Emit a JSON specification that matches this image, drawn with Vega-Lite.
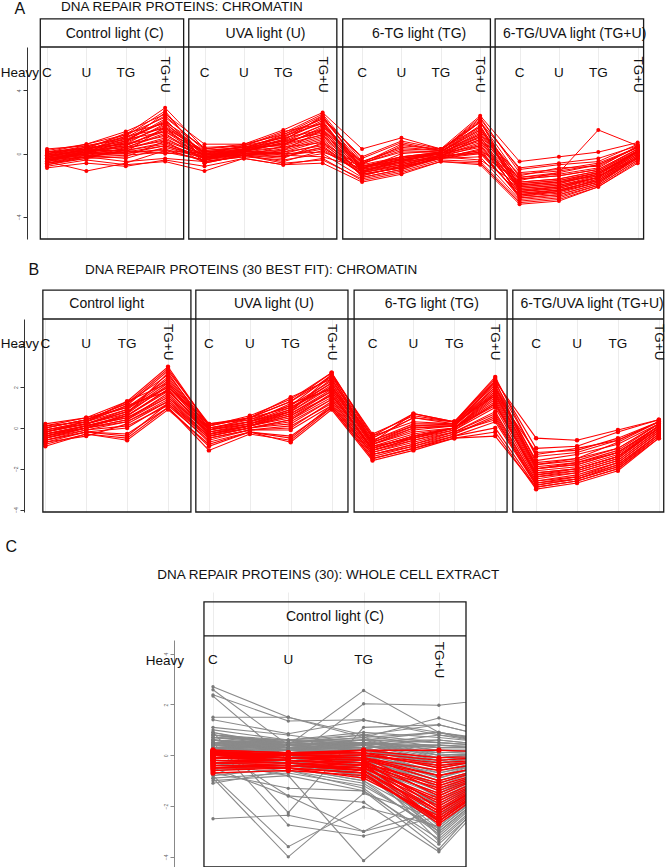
{
"$schema": "https://vega.github.io/schema/vega-lite/v6.json",
"padding": 0,
"background": "white",
"bounds": "flush",
"spacing": 80,
"config": {"view": {"stroke": null}, "font": "Liberation Sans"},
"datasets": {
"posA": [{"k":"c1","i":1,"lab":"C"},{"k":"u1","i":2,"lab":"U"},{"k":"t1","i":3,"lab":"TG"},{"k":"g1","i":4,"lab":"TG+U"},{"k":"c2","i":5,"lab":"C"},{"k":"u2","i":6,"lab":"U"},{"k":"t2","i":7,"lab":"TG"},{"k":"g2","i":8,"lab":"TG+U"},{"k":"c3","i":9,"lab":"C"},{"k":"u3","i":10,"lab":"U"},{"k":"t3","i":11,"lab":"TG"},{"k":"g3","i":12,"lab":"TG+U"},{"k":"c4","i":13,"lab":"C"},{"k":"u4","i":14,"lab":"U"},{"k":"t4","i":15,"lab":"TG"},{"k":"g4","i":16,"lab":"TG+U"}],
"posC": [{"k":"c1","i":1,"lab":"C"},{"k":"u1","i":2,"lab":"U"},{"k":"t1","i":3,"lab":"TG"},{"k":"g1","i":4,"lab":"TG+U"},{"k":"n","i":5,"lab":""}],
"boxA": [{"name":"Control light (C)","lo":0.83,"hi":4.47,"mid":2.72},{"name":"UVA light (U)","lo":4.6,"hi":8.36,"mid":6.55},{"name":"6-TG light (TG)","lo":8.51,"hi":12.26,"mid":10.45},{"name":"6-TG/UVA light (TG+U)","lo":12.38,"hi":16.15,"mid":14.4}],
"boxB": [{"name":"Control light","lo":0.94,"hi":4.56,"mid":2.5},{"name":"UVA light (U)","lo":4.68,"hi":8.4,"mid":6.59},{"name":"6-TG light (TG)","lo":8.55,"hi":12.29,"mid":10.45},{"name":"6-TG/UVA light (TG+U)","lo":12.43,"hi":16.12,"mid":14.37}],
"boxC": [{"name":"Control light (C)","lo":0.88,"hi":4.36,"mid":2.62}],
"A": [
{"id":1,"c1":-0.3,"u1":0.1,"t1":0.5,"g1":1.6,"c2":-0.2,"u2":0.2,"t2":0.6,"g2":1.5,"c3":-0.9,"u3":-0.4,"t3":0.0,"g3":1.2,"c4":-2.0,"u4":-1.8,"t4":-1.2,"g4":0.1},
{"id":2,"c1":0.1,"u1":0.4,"t1":1.2,"g1":2.9,"c2":0.3,"u2":0.5,"t2":1.3,"g2":2.5,"c3":-0.5,"u3":0.3,"t3":0.2,"g3":2.3,"c4":-1.2,"u4":-1.0,"t4":-0.6,"g4":0.4},
{"id":3,"c1":-0.6,"u1":-0.2,"t1":-0.5,"g1":-0.3,"c2":-0.5,"u2":-0.1,"t2":-0.6,"g2":-0.4,"c3":-1.6,"u3":-1.1,"t3":-0.4,"g3":-0.5,"c4":-3.0,"u4":-2.8,"t4":-2.0,"g4":-0.4},
{"id":4,"c1":-0.2,"u1":0.3,"t1":0.8,"g1":2.1,"c2":0.0,"u2":0.3,"t2":0.9,"g2":2.0,"c3":-1.0,"u3":-0.5,"t3":0.1,"g3":1.6,"c4":-2.3,"u4":-2.1,"t4":-1.5,"g4":0.2},
{"id":5,"c1":-0.4,"u1":0.0,"t1":0.3,"g1":1.0,"c2":-0.3,"u2":0.1,"t2":0.2,"g2":0.9,"c3":-1.2,"u3":-0.7,"t3":-0.1,"g3":0.6,"c4":-2.5,"u4":-2.3,"t4":-1.7,"g4":-0.1},
{"id":6,"c1":0.2,"u1":0.6,"t1":1.4,"g1":2.5,"c2":0.6,"u2":0.6,"t2":1.5,"g2":2.6,"c3":0.3,"u3":1.0,"t3":0.3,"g3":2.4,"c4":-0.5,"u4":-0.2,"t4":0.1,"g4":0.7},
{"id":7,"c1":-0.8,"u1":-0.4,"t1":-0.7,"g1":-0.5,"c2":-1.1,"u2":-0.3,"t2":-0.7,"g2":-0.6,"c3":-1.8,"u3":-1.3,"t3":-0.5,"g3":-0.7,"c4":-3.2,"u4":-3.0,"t4":-2.1,"g4":-0.6},
{"id":8,"c1":-0.1,"u1":0.2,"t1":0.7,"g1":1.8,"c2":-0.1,"u2":0.2,"t2":0.7,"g2":1.8,"c3":-0.8,"u3":-0.3,"t3":0.0,"g3":1.4,"c4":-1.8,"u4":-1.6,"t4":-1.1,"g4":0.3},
{"id":9,"c1":-0.5,"u1":-1.1,"t1":-0.6,"g1":0.2,"c2":-0.4,"u2":0.0,"t2":-0.2,"g2":0.4,"c3":-1.3,"u3":-0.9,"t3":-0.2,"g3":0.2,"c4":-2.7,"u4":-2.5,"t4":-1.8,"g4":-0.2},
{"id":10,"c1":0.0,"u1":0.5,"t1":1.0,"g1":2.4,"c2":0.2,"u2":0.4,"t2":1.1,"g2":2.2,"c3":-0.6,"u3":0.6,"t3":0.2,"g3":2.0,"c4":-1.5,"u4":-1.3,"t4":-0.9,"g4":0.5},
{"id":11,"c1":-0.3,"u1":0.0,"t1":0.1,"g1":0.5,"c2":-0.2,"u2":0.0,"t2":0.0,"g2":0.6,"c3":-1.1,"u3":-0.6,"t3":-0.1,"g3":0.4,"c4":-2.4,"u4":-2.2,"t4":-1.6,"g4":0.0},
{"id":12,"c1":-0.7,"u1":-0.3,"t1":-0.2,"g1":0.8,"c2":-0.6,"u2":-0.1,"t2":-0.3,"g2":0.7,"c3":-1.4,"u3":-0.8,"t3":-0.3,"g3":0.3,"c4":-2.8,"u4":-2.6,"t4":-1.9,"g4":-0.3},
{"id":13,"c1":0.1,"u1":0.3,"t1":0.9,"g1":1.4,"c2":0.1,"u2":0.3,"t2":0.8,"g2":1.3,"c3":-0.7,"u3":-0.2,"t3":0.1,"g3":1.0,"c4":-1.6,"u4":-1.4,"t4":-1.0,"g4":0.3},
{"id":14,"c1":-0.2,"u1":0.1,"t1":0.4,"g1":1.2,"c2":-0.1,"u2":0.1,"t2":0.4,"g2":1.1,"c3":-0.9,"u3":-0.4,"t3":0.0,"g3":0.8,"c4":-2.1,"u4":-1.9,"t4":-1.3,"g4":0.1},
{"id":15,"c1":-0.4,"u1":0.2,"t1":1.1,"g1":2.7,"c2":-0.3,"u2":0.3,"t2":1.2,"g2":2.4,"c3":-1.0,"u3":0.0,"t3":0.2,"g3":2.1,"c4":-2.2,"u4":-2.0,"t4":-1.4,"g4":0.2},
{"id":16,"c1":-0.6,"u1":-0.1,"t1":0.0,"g1":0.3,"c2":-0.5,"u2":-0.2,"t2":-0.4,"g2":0.0,"c3":-1.5,"u3":-1.0,"t3":-0.3,"g3":-0.2,"c4":-2.9,"u4":-2.7,"t4":-2.0,"g4":-0.4},
{"id":17,"c1":0.0,"u1":0.4,"t1":0.6,"g1":1.9,"c2":0.1,"u2":0.4,"t2":0.5,"g2":1.7,"c3":-0.6,"u3":0.1,"t3":0.1,"g3":1.5,"c4":-1.4,"u4":-0.9,"t4":-0.8,"g4":0.4},
{"id":18,"c1":-0.3,"u1":-0.1,"t1":-0.3,"g1":0.4,"c2":-0.3,"u2":-0.1,"t2":-0.5,"g2":0.2,"c3":-1.2,"u3":-0.8,"t3":-0.3,"g3":0.0,"c4":-2.6,"u4":-2.4,"t4":-1.8,"g4":-0.2},
{"id":19,"c1":-0.1,"u1":0.2,"t1":0.5,"g1":1.5,"c2":0.0,"u2":0.2,"t2":0.6,"g2":1.6,"c3":-0.8,"u3":-0.3,"t3":0.0,"g3":1.3,"c4":-1.9,"u4":-1.7,"t4":-1.2,"g4":0.2},
{"id":20,"c1":-0.5,"u1":0.0,"t1":0.8,"g1":2.2,"c2":-0.4,"u2":0.1,"t2":0.9,"g2":2.1,"c3":-1.1,"u3":-0.5,"t3":0.1,"g3":1.8,"c4":-2.3,"u4":-2.1,"t4":-1.5,"g4":0.1},
{"id":21,"c1":-0.2,"u1":0.3,"t1":1.3,"g1":1.9,"c2":0.0,"u2":0.5,"t2":1.4,"g2":1.9,"c3":-0.7,"u3":0.5,"t3":0.3,"g3":1.7,"c4":-1.7,"u4":-1.2,"t4":-0.7,"g4":0.4},
{"id":22,"c1":-0.4,"u1":-0.2,"t1":0.2,"g1":0.6,"c2":-0.2,"u2":-0.1,"t2":0.1,"g2":0.5,"c3":-1.3,"u3":-0.9,"t3":-0.2,"g3":0.1,"c4":-2.6,"u4":-2.3,"t4":-1.7,"g4":-0.2},
{"id":23,"c1":-0.9,"u1":-0.6,"t1":-0.8,"g1":-0.4,"c2":-0.8,"u2":-0.3,"t2":-0.7,"g2":-0.3,"c3":-1.7,"u3":-1.2,"t3":-0.5,"g3":-0.6,"c4":-3.1,"u4":-2.9,"t4":-2.1,"g4":-0.5},
{"id":24,"c1":0.3,"u1":0.5,"t1":0.9,"g1":2.0,"c2":0.4,"u2":0.5,"t2":1.0,"g2":2.3,"c3":-0.3,"u3":0.7,"t3":0.2,"g3":2.2,"c4":-1.0,"u4":-0.7,"t4":-0.5,"g4":0.6},
{"id":25,"c1":-0.2,"u1":0.0,"t1":0.3,"g1":0.9,"c2":-0.1,"u2":0.0,"t2":0.3,"g2":1.0,"c3":-1.0,"u3":-0.6,"t3":-0.1,"g3":0.7,"c4":-2.2,"u4":-2.0,"t4":-1.5,"g4":0.0},
{"id":26,"c1":-0.6,"u1":-0.3,"t1":0.4,"g1":1.3,"c2":-0.5,"u2":-0.2,"t2":0.5,"g2":1.2,"c3":-1.4,"u3":-0.8,"t3":-0.1,"g3":0.9,"c4":-2.7,"u4":-2.4,"t4":-1.6,"g4":-0.1},
{"id":27,"c1":0.0,"u1":0.2,"t1":0.2,"g1":0.0,"c2":0.1,"u2":0.2,"t2":-0.1,"g2":-0.2,"c3":-0.9,"u3":-0.5,"t3":-0.2,"g3":-0.4,"c4":-2.0,"u4":-1.8,"t4":-1.4,"g4":-0.3},
{"id":28,"c1":-0.3,"u1":0.1,"t1":0.7,"g1":2.6,"c2":-0.2,"u2":0.2,"t2":0.8,"g2":2.4,"c3":-0.9,"u3":-0.2,"t3":0.1,"g3":2.0,"c4":-2.1,"u4":-1.9,"t4":-1.3,"g4":0.2},
{"id":29,"c1":-0.1,"u1":0.4,"t1":1.1,"g1":1.6,"c2":0.2,"u2":0.4,"t2":1.0,"g2":1.5,"c3":-0.5,"u3":0.4,"t3":0.2,"g3":1.2,"c4":-1.3,"u4":-1.1,"t4":-0.7,"g4":0.4},
{"id":30,"c1":-0.5,"u1":-0.2,"t1":-0.1,"g1":0.1,"c2":-0.4,"u2":-0.1,"t2":-0.2,"g2":0.3,"c3":-1.3,"u3":-0.9,"t3":-0.3,"g3":0.1,"c4":-2.6,"u4":-2.4,"t4":-1.8,"g4":-0.3},
{"id":31,"c1":-0.2,"u1":0.3,"t1":0.6,"g1":1.1,"c2":-0.1,"u2":0.3,"t2":0.6,"g2":1.2,"c3":-0.8,"u3":-0.2,"t3":0.0,"g3":0.9,"c4":-1.9,"u4":-1.7,"t4":-1.2,"g4":0.1},
{"id":32,"c1":-0.7,"u1":-0.2,"t1":0.1,"g1":1.7,"c2":-0.6,"u2":-0.1,"t2":0.2,"g2":1.5,"c3":-1.5,"u3":-1.0,"t3":-0.2,"g3":1.1,"c4":-2.8,"u4":-2.6,"t4":-1.9,"g4":-0.2},
{"id":33,"c1":0.1,"u1":0.6,"t1":1.2,"g1":2.3,"c2":0.3,"u2":0.6,"t2":1.2,"g2":2.2,"c3":-0.2,"u3":0.8,"t3":0.3,"g3":2.0,"c4":-0.9,"u4":-0.6,"t4":-0.3,"g4":0.5},
{"id":34,"c1":-0.4,"u1":-0.1,"t1":0.2,"g1":0.7,"c2":-0.3,"u2":0.0,"t2":0.1,"g2":0.8,"c3":-1.2,"u3":-0.7,"t3":-0.2,"g3":0.5,"c4":-2.5,"u4":-2.3,"t4":-1.7,"g4":-0.1},
{"id":35,"c1":-0.3,"u1":0.0,"t1":0.6,"g1":1.4,"c2":-0.2,"u2":0.1,"t2":0.7,"g2":1.4,"c3":-1.1,"u3":-0.5,"t3":0.0,"g3":1.1,"c4":-2.4,"u4":-2.1,"t4":-1.5,"g4":0.0},
{"id":36,"c1":-0.1,"u1":0.1,"t1":0.1,"g1":0.2,"c2":0.0,"u2":0.1,"t2":0.0,"g2":0.1,"c3":-0.8,"u3":-0.4,"t3":-0.1,"g3":0.0,"c4":-1.8,"u4":-1.6,"t4":-1.1,"g4":0.2},
{"id":37,"c1":-0.5,"u1":0.1,"t1":1.0,"g1":2.0,"c2":-0.4,"u2":0.2,"t2":1.1,"g2":1.9,"c3":-1.2,"u3":-0.3,"t3":0.1,"g3":1.7,"c4":-2.4,"u4":-2.2,"t4":-1.5,"g4":0.1},
{"id":38,"c1":-0.2,"u1":0.2,"t1":0.4,"g1":0.8,"c2":-0.1,"u2":0.2,"t2":0.4,"g2":0.7,"c3":-0.9,"u3":-0.4,"t3":0.0,"g3":0.5,"c4":-2.0,"u4":-1.8,"t4":-1.3,"g4":0.1},
{"id":39,"c1":0.0,"u1":0.3,"t1":0.8,"g1":1.7,"c2":0.1,"u2":0.4,"t2":0.8,"g2":1.8,"c3":-0.6,"u3":0.2,"t3":0.1,"g3":1.5,"c4":-1.6,"u4":-1.4,"t4":-1.0,"g4":0.3},
{"id":40,"c1":-0.4,"u1":0.0,"t1":0.0,"g1":0.5,"c2":-0.3,"u2":0.0,"t2":-0.1,"g2":0.4,"c3":-1.1,"u3":-0.7,"t3":-0.2,"g3":0.2,"c4":-1.5,"u4":-1.2,"t4":1.5,"g4":0.5}
],
"B": [
{"id":1,"c1":-0.3,"u1":0.1,"t1":0.6,"g1":1.8,"c2":-0.2,"u2":0.2,"t2":0.7,"g2":1.9,"c3":-0.9,"u3":-0.5,"t3":0.0,"g3":1.5,"c4":-2.2,"u4":-2.0,"t4":-1.4,"g4":0.1},
{"id":2,"c1":0.2,"u1":0.5,"t1":1.3,"g1":3.0,"c2":0.1,"u2":0.6,"t2":1.4,"g2":2.7,"c3":-0.4,"u3":0.7,"t3":0.3,"g3":2.4,"c4":-1.0,"u4":-0.9,"t4":-0.2,"g4":0.4},
{"id":3,"c1":-0.8,"u1":-0.3,"t1":-0.5,"g1":1.0,"c2":-1.1,"u2":-0.3,"t2":-0.6,"g2":1.0,"c3":-1.5,"u3":-1.0,"t3":-0.5,"g3":-0.4,"c4":-2.9,"u4":-2.6,"t4":-2.0,"g4":-0.5},
{"id":4,"c1":-0.1,"u1":0.3,"t1":0.9,"g1":2.3,"c2":0.0,"u2":0.3,"t2":1.0,"g2":2.2,"c3":-0.7,"u3":0.0,"t3":0.1,"g3":1.9,"c4":-1.8,"u4":-1.5,"t4":-1.0,"g4":0.2},
{"id":5,"c1":-0.5,"u1":0.0,"t1":0.3,"g1":1.4,"c2":-0.4,"u2":0.0,"t2":0.3,"g2":1.4,"c3":-1.2,"u3":-0.7,"t3":-0.2,"g3":0.8,"c4":-2.6,"u4":-2.4,"t4":-1.7,"g4":-0.2},
{"id":6,"c1":0.0,"u1":0.4,"t1":1.2,"g1":2.6,"c2":0.1,"u2":0.5,"t2":1.3,"g2":2.5,"c3":-0.5,"u3":0.5,"t3":0.2,"g3":2.2,"c4":-1.3,"u4":-1.0,"t4":-0.6,"g4":0.3},
{"id":7,"c1":-0.6,"u1":-0.2,"t1":-0.4,"g1":1.2,"c2":-0.7,"u2":-0.2,"t2":-0.5,"g2":1.1,"c3":-1.4,"u3":-0.9,"t3":-0.4,"g3":0.3,"c4":-2.8,"u4":-2.5,"t4":-1.9,"g4":-0.4},
{"id":8,"c1":-0.2,"u1":0.2,"t1":0.8,"g1":2.0,"c2":-0.1,"u2":0.2,"t2":0.8,"g2":2.0,"c3":-0.8,"u3":-0.2,"t3":0.0,"g3":1.7,"c4":-2.0,"u4":-1.8,"t4":-1.2,"g4":0.1},
{"id":9,"c1":-0.4,"u1":0.1,"t1":0.5,"g1":1.6,"c2":-0.3,"u2":0.1,"t2":0.6,"g2":1.6,"c3":-1.0,"u3":-0.4,"t3":0.0,"g3":1.2,"c4":-2.3,"u4":-2.1,"t4":-1.5,"g4":0.0},
{"id":10,"c1":0.1,"u1":0.3,"t1":1.1,"g1":2.8,"c2":0.2,"u2":0.4,"t2":1.1,"g2":2.6,"c3":-0.3,"u3":0.6,"t3":0.3,"g3":2.3,"c4":-0.5,"u4":-0.6,"t4":-0.1,"g4":0.4},
{"id":11,"c1":-0.7,"u1":-0.4,"t1":0.2,"g1":1.3,"c2":-0.5,"u2":-0.1,"t2":0.1,"g2":1.2,"c3":-1.3,"u3":-0.8,"t3":-0.3,"g3":0.6,"c4":-2.7,"u4":-2.4,"t4":-1.8,"g4":-0.3},
{"id":12,"c1":-0.3,"u1":0.0,"t1":0.7,"g1":2.1,"c2":-0.2,"u2":0.1,"t2":0.8,"g2":2.1,"c3":-0.9,"u3":-0.3,"t3":0.0,"g3":1.6,"c4":-2.1,"u4":-1.9,"t4":-1.3,"g4":0.1},
{"id":13,"c1":-0.9,"u1":-0.3,"t1":-0.6,"g1":0.9,"c2":-0.8,"u2":-0.2,"t2":-0.7,"g2":0.9,"c3":-1.6,"u3":-1.1,"t3":-0.5,"g3":-0.2,"c4":-3.0,"u4":-2.7,"t4":-2.1,"g4":-0.5},
{"id":14,"c1":0.0,"u1":0.4,"t1":1.0,"g1":2.4,"c2":0.0,"u2":0.4,"t2":1.1,"g2":2.3,"c3":-0.6,"u3":0.2,"t3":0.2,"g3":2.0,"c4":-1.6,"u4":-1.3,"t4":-0.8,"g4":0.2},
{"id":15,"c1":-0.5,"u1":0.0,"t1":0.4,"g1":1.5,"c2":-0.4,"u2":0.0,"t2":0.4,"g2":1.5,"c3":-1.1,"u3":-0.6,"t3":-0.1,"g3":1.0,"c4":-2.5,"u4":-2.2,"t4":-1.6,"g4":-0.1},
{"id":16,"c1":-0.2,"u1":0.3,"t1":1.3,"g1":2.2,"c2":-0.1,"u2":0.5,"t2":1.5,"g2":2.4,"c3":-0.7,"u3":0.7,"t3":0.3,"g3":2.1,"c4":-1.7,"u4":-1.5,"t4":-0.7,"g4":0.3},
{"id":17,"c1":-0.6,"u1":-0.1,"t1":0.1,"g1":1.1,"c2":-0.6,"u2":-0.1,"t2":0.0,"g2":1.3,"c3":-1.3,"u3":-0.8,"t3":-0.2,"g3":0.4,"c4":-2.7,"u4":-2.5,"t4":-1.8,"g4":-0.3},
{"id":18,"c1":-0.1,"u1":0.2,"t1":0.9,"g1":2.5,"c2":0.0,"u2":0.3,"t2":0.9,"g2":2.4,"c3":-0.6,"u3":0.1,"t3":0.1,"g3":2.0,"c4":-1.9,"u4":-1.7,"t4":-1.1,"g4":0.2},
{"id":19,"c1":-0.3,"u1":0.1,"t1":0.6,"g1":1.9,"c2":-0.3,"u2":0.1,"t2":0.6,"g2":1.8,"c3":-1.0,"u3":-0.4,"t3":0.0,"g3":1.4,"c4":-2.3,"u4":-2.0,"t4":-1.4,"g4":0.0},
{"id":20,"c1":-0.4,"u1":0.0,"t1":0.4,"g1":1.7,"c2":-0.3,"u2":0.0,"t2":0.4,"g2":1.7,"c3":-1.1,"u3":-0.5,"t3":-0.1,"g3":1.2,"c4":-2.4,"u4":-2.2,"t4":-1.6,"g4":-0.1},
{"id":21,"c1":0.1,"u1":0.5,"t1":1.0,"g1":2.0,"c2":0.2,"u2":0.5,"t2":1.0,"g2":2.0,"c3":-0.4,"u3":0.3,"t3":0.2,"g3":1.7,"c4":-1.2,"u4":-1.1,"t4":-0.5,"g4":0.3},
{"id":22,"c1":-0.7,"u1":-0.2,"t1":-0.3,"g1":1.0,"c2":-0.9,"u2":-0.2,"t2":-0.4,"g2":1.0,"c3":-1.5,"u3":-1.0,"t3":-0.4,"g3":0.0,"c4":-2.9,"u4":-2.6,"t4":-2.0,"g4":-0.4},
{"id":23,"c1":-0.2,"u1":0.2,"t1":0.7,"g1":2.7,"c2":-0.1,"u2":0.3,"t2":0.8,"g2":2.6,"c3":-0.8,"u3":0.0,"t3":0.1,"g3":2.3,"c4":-2.0,"u4":-1.8,"t4":-1.2,"g4":0.1},
{"id":24,"c1":-0.5,"u1":-0.1,"t1":0.3,"g1":1.3,"c2":-0.4,"u2":0.0,"t2":0.2,"g2":1.4,"c3":-1.2,"u3":-0.6,"t3":-0.2,"g3":0.7,"c4":-2.6,"u4":-2.3,"t4":-1.7,"g4":-0.2},
{"id":25,"c1":-0.1,"u1":0.3,"t1":1.1,"g1":1.8,"c2":-0.1,"u2":0.3,"t2":1.2,"g2":1.9,"c3":-0.7,"u3":0.1,"t3":0.2,"g3":1.6,"c4":-1.8,"u4":-1.6,"t4":-1.0,"g4":0.2},
{"id":26,"c1":-0.3,"u1":0.1,"t1":0.5,"g1":1.5,"c2":-0.2,"u2":0.1,"t2":0.5,"g2":1.6,"c3":-1.0,"u3":-0.4,"t3":0.0,"g3":1.1,"c4":-2.2,"u4":-2.0,"t4":-1.4,"g4":0.0},
{"id":27,"c1":-0.6,"u1":-0.2,"t1":0.0,"g1":1.2,"c2":-0.5,"u2":-0.1,"t2":-0.1,"g2":1.1,"c3":-1.3,"u3":-0.9,"t3":-0.3,"g3":0.5,"c4":-2.8,"u4":-2.5,"t4":-1.9,"g4":-0.3},
{"id":28,"c1":0.0,"u1":0.4,"t1":1.2,"g1":2.9,"c2":0.1,"u2":0.5,"t2":1.3,"g2":2.7,"c3":-0.5,"u3":0.5,"t3":0.3,"g3":2.5,"c4":-1.4,"u4":-1.2,"t4":-0.6,"g4":0.3},
{"id":29,"c1":-0.4,"u1":0.0,"t1":0.6,"g1":1.9,"c2":-0.3,"u2":0.1,"t2":0.7,"g2":1.8,"c3":-1.1,"u3":-0.5,"t3":0.0,"g3":1.3,"c4":-2.4,"u4":-2.1,"t4":-1.5,"g4":0.0},
{"id":30,"c1":-0.2,"u1":0.2,"t1":0.8,"g1":2.2,"c2":-0.1,"u2":0.2,"t2":0.9,"g2":2.2,"c3":-0.8,"u3":-0.1,"t3":0.1,"g3":1.8,"c4":-2.0,"u4":-1.7,"t4":-1.2,"g4":0.1}
],
"Cg": [
{"id":1,"c1":2.7,"u1":1.5,"t1":0.8,"g1":0.3,"n":0.4},
{"id":2,"c1":2.58,"u1":0.4,"t1":2.55,"g1":0.9,"n":0.5},
{"id":3,"c1":2.38,"u1":1.35,"t1":1.4,"g1":0.8,"n":0.3},
{"id":4,"c1":2.33,"u1":-0.2,"t1":2.03,"g1":1.97,"n":2.3},
{"id":5,"c1":1.5,"u1":1.5,"t1":0.7,"g1":1.47,"n":0.6},
{"id":6,"c1":1.4,"u1":0.85,"t1":1.38,"g1":0.9,"n":0.2},
{"id":7,"c1":-2.5,"u1":-2.36,"t1":-3.0,"g1":-1.5,"n":-0.2},
{"id":8,"c1":-0.9,"u1":-4.0,"t1":-1.5,"g1":-2.5,"n":-0.3},
{"id":9,"c1":-0.8,"u1":-3.6,"t1":-2.04,"g1":-2.8,"n":-0.4},
{"id":10,"c1":0.5,"u1":-2.75,"t1":-3.18,"g1":-2.4,"n":0.0},
{"id":11,"c1":-0.3,"u1":-0.8,"t1":-4.15,"g1":-1.6,"n":-0.2},
{"id":12,"c1":0.3,"u1":-1.6,"t1":-3.0,"g1":-2.2,"n":0.0},
{"id":13,"c1":-0.5,"u1":-1.6,"t1":-1.85,"g1":-3.8,"n":-0.6},
{"id":14,"c1":-0.7,"u1":-1.3,"t1":-1.4,"g1":-3.7,"n":-0.4},
{"id":15,"c1":0.9,"u1":-2.26,"t1":1.1,"g1":1.2,"n":0.5},
{"id":16,"c1":0.6,"u1":0.4,"t1":0.5,"g1":0.3,"n":0.3},
{"id":17,"c1":0.4,"u1":0.3,"t1":0.2,"g1":-0.2,"n":0.1},
{"id":18,"c1":0.8,"u1":0.5,"t1":0.7,"g1":0.9,"n":0.4},
{"id":19,"c1":0.2,"u1":0.1,"t1":-0.2,"g1":-1.0,"n":-0.2},
{"id":20,"c1":0.5,"u1":0.2,"t1":0.0,"g1":-0.6,"n":0.0},
{"id":21,"c1":0.3,"u1":0.4,"t1":0.6,"g1":0.5,"n":0.3},
{"id":22,"c1":-0.3,"u1":-0.4,"t1":-0.8,"g1":-2.0,"n":-0.3},
{"id":23,"c1":0.1,"u1":0.0,"t1":-0.4,"g1":-1.5,"n":-0.1},
{"id":24,"c1":0.7,"u1":0.6,"t1":0.4,"g1":0.1,"n":0.2},
{"id":25,"c1":-0.9,"u1":-0.7,"t1":-1.2,"g1":-2.9,"n":-0.5},
{"id":26,"c1":0.4,"u1":0.3,"t1":0.3,"g1":-0.4,"n":0.1},
{"id":27,"c1":1.0,"u1":0.6,"t1":0.9,"g1":0.7,"n":0.4},
{"id":28,"c1":-0.5,"u1":-0.5,"t1":-1.0,"g1":-2.6,"n":-0.4},
{"id":29,"c1":0.2,"u1":0.2,"t1":0.1,"g1":-0.8,"n":0.0},
{"id":30,"c1":0.6,"u1":0.5,"t1":0.8,"g1":1.2,"n":0.5},
{"id":31,"c1":-1.0,"u1":-0.8,"t1":-1.4,"g1":-3.3,"n":-0.7},
{"id":32,"c1":0.3,"u1":0.1,"t1":-0.1,"g1":-1.2,"n":-0.1},
{"id":33,"c1":0.5,"u1":0.4,"t1":0.2,"g1":-0.1,"n":0.2},
{"id":34,"c1":-0.2,"u1":-0.3,"t1":-0.6,"g1":-2.2,"n":-0.3},
{"id":35,"c1":0.9,"u1":0.3,"t1":0.5,"g1":0.0,"n":0.2},
{"id":36,"c1":0.0,"u1":-0.1,"t1":-0.5,"g1":-1.8,"n":-0.2},
{"id":37,"c1":0.4,"u1":0.5,"t1":0.6,"g1":0.6,"n":0.3},
{"id":38,"c1":-0.7,"u1":-0.6,"t1":-1.1,"g1":-3.0,"n":-0.6},
{"id":39,"c1":0.6,"u1":0.2,"t1":0.3,"g1":-0.3,"n":0.1},
{"id":40,"c1":0.1,"u1":0.3,"t1":0.0,"g1":-0.9,"n":0.0},
{"id":41,"c1":1.1,"u1":0.8,"t1":0.4,"g1":0.8,"n":0.5},
{"id":42,"c1":-0.4,"u1":-0.2,"t1":-0.9,"g1":-2.4,"n":-0.4},
{"id":43,"c1":0.5,"u1":0.4,"t1":0.5,"g1":0.2,"n":0.2},
{"id":44,"c1":0.3,"u1":0.0,"t1":-0.3,"g1":-1.4,"n":-0.1},
{"id":45,"c1":-1.1,"u1":-0.6,"t1":-1.3,"g1":-3.5,"n":-0.8},
{"id":46,"c1":0.7,"u1":0.5,"t1":0.3,"g1":0.4,"n":0.3},
{"id":47,"c1":0.2,"u1":0.2,"t1":-0.1,"g1":-0.7,"n":0.0},
{"id":48,"c1":-0.6,"u1":-0.4,"t1":-0.7,"g1":-2.7,"n":-0.5},
{"id":49,"c1":0.8,"u1":0.6,"t1":0.6,"g1":-0.1,"n":0.2},
{"id":50,"c1":0.0,"u1":0.1,"t1":-0.2,"g1":-1.1,"n":-0.1},
{"id":51,"c1":0.4,"u1":0.2,"t1":0.4,"g1":0.0,"n":0.1},
{"id":52,"c1":-0.8,"u1":-0.5,"t1":-1.0,"g1":-3.1,"n":-0.6},
{"id":53,"c1":0.6,"u1":0.3,"t1":0.1,"g1":-0.5,"n":0.1},
{"id":54,"c1":0.2,"u1":0.4,"t1":0.2,"g1":-0.3,"n":0.1},
{"id":55,"c1":-0.3,"u1":-0.2,"t1":-0.6,"g1":-1.9,"n":-0.3},
{"id":56,"c1":0.5,"u1":0.6,"t1":0.8,"g1":0.5,"n":0.3},
{"id":57,"c1":0.1,"u1":-0.2,"t1":-0.4,"g1":-1.6,"n":-0.2},
{"id":58,"c1":0.9,"u1":0.4,"t1":0.2,"g1":0.2,"n":0.2},
{"id":59,"c1":-0.5,"u1":-0.3,"t1":-0.8,"g1":-2.3,"n":-0.4},
{"id":60,"c1":0.3,"u1":0.3,"t1":0.4,"g1":0.1,"n":0.2},
{"id":61,"c1":0.5,"u1":0.3,"t1":0.4,"g1":-0.2,"n":0.1},
{"id":62,"c1":0.3,"u1":0.2,"t1":0.1,"g1":-1.3,"n":-0.2},
{"id":63,"c1":0.7,"u1":0.4,"t1":0.5,"g1":0.3,"n":0.3},
{"id":64,"c1":0.1,"u1":0.1,"t1":-0.2,"g1":-2.4,"n":-0.4},
{"id":65,"c1":0.4,"u1":0.4,"t1":0.6,"g1":0.2,"n":0.2},
{"id":66,"c1":0.6,"u1":0.2,"t1":0.0,"g1":-1.7,"n":-0.3},
{"id":67,"c1":0.2,"u1":0.3,"t1":0.3,"g1":-0.5,"n":0.0},
{"id":68,"c1":0.8,"u1":0.5,"t1":0.3,"g1":-0.9,"n":-0.1},
{"id":69,"c1":0.0,"u1":0.0,"t1":-0.3,"g1":-2.8,"n":-0.5},
{"id":70,"c1":0.5,"u1":0.5,"t1":0.7,"g1":0.0,"n":0.1},
{"id":71,"c1":0.3,"u1":0.1,"t1":-0.1,"g1":-3.2,"n":-0.6},
{"id":72,"c1":0.6,"u1":0.4,"t1":0.2,"g1":-0.4,"n":0.0},
{"id":73,"c1":0.2,"u1":0.2,"t1":0.5,"g1":0.4,"n":0.2},
{"id":74,"c1":-0.1,"u1":-0.1,"t1":-0.5,"g1":-2.6,"n":-0.5},
{"id":75,"c1":0.4,"u1":0.3,"t1":0.0,"g1":-1.0,"n":-0.2},
{"id":76,"c1":0.7,"u1":0.6,"t1":0.4,"g1":0.6,"n":0.3},
{"id":77,"c1":0.1,"u1":0.0,"t1":-0.4,"g1":-3.4,"n":-0.7},
{"id":78,"c1":0.5,"u1":0.2,"t1":0.2,"g1":-0.7,"n":-0.1},
{"id":79,"c1":0.3,"u1":0.5,"t1":0.4,"g1":-0.1,"n":0.1},
{"id":80,"c1":0.0,"u1":-0.2,"t1":-0.6,"g1":-2.9,"n":-0.5},
{"id":81,"c1":0.6,"u1":0.3,"t1":0.6,"g1":0.9,"n":0.4},
{"id":82,"c1":0.2,"u1":0.1,"t1":-0.1,"g1":-2.0,"n":-0.3},
{"id":83,"c1":0.4,"u1":0.2,"t1":0.3,"g1":-0.3,"n":0.1},
{"id":84,"c1":-0.2,"u1":-0.3,"t1":-0.7,"g1":-3.0,"n":-0.6},
{"id":85,"c1":0.8,"u1":0.4,"t1":0.5,"g1":0.1,"n":0.2}
],
"Cr": [
{"id":1,"c1":0.2,"u1":0.1,"t1":0.2,"g1":0.2,"n":0.1},
{"id":2,"c1":0.1,"u1":0.0,"t1":0.0,"g1":-0.3,"n":-0.1},
{"id":3,"c1":0.0,"u1":-0.1,"t1":-0.2,"g1":-0.8,"n":-0.2},
{"id":4,"c1":-0.1,"u1":-0.2,"t1":-0.3,"g1":-1.2,"n":-0.3},
{"id":5,"c1":0.15,"u1":0.05,"t1":0.1,"g1":-0.5,"n":0.0},
{"id":6,"c1":-0.3,"u1":-0.3,"t1":-0.5,"g1":-1.8,"n":-0.4},
{"id":7,"c1":-0.2,"u1":-0.2,"t1":-0.4,"g1":-1.5,"n":-0.3},
{"id":8,"c1":0.1,"u1":-0.1,"t1":-0.1,"g1":-1.0,"n":-0.2},
{"id":9,"c1":-0.7,"u1":-0.6,"t1":-0.8,"g1":-2.5,"n":-0.5},
{"id":10,"c1":0.0,"u1":-0.1,"t1":-0.2,"g1":-2.1,"n":-0.4},
{"id":11,"c1":-0.4,"u1":-0.4,"t1":-0.6,"g1":-2.3,"n":-0.5},
{"id":12,"c1":0.2,"u1":0.1,"t1":0.1,"g1":-0.2,"n":0.0},
{"id":13,"c1":-0.1,"u1":-0.2,"t1":-0.3,"g1":-2.6,"n":-0.5},
{"id":14,"c1":-0.5,"u1":-0.5,"t1":-0.7,"g1":-2.7,"n":-0.6},
{"id":15,"c1":0.1,"u1":0.0,"t1":-0.1,"g1":-0.6,"n":-0.1},
{"id":16,"c1":-0.2,"u1":-0.3,"t1":-0.4,"g1":-1.3,"n":-0.3},
{"id":17,"c1":0.0,"u1":-0.1,"t1":-0.3,"g1":-1.9,"n":-0.4},
{"id":18,"c1":-0.3,"u1":-0.4,"t1":-0.5,"g1":-2.0,"n":-0.4},
{"id":19,"c1":0.1,"u1":0.0,"t1":0.0,"g1":-0.4,"n":-0.1},
{"id":20,"c1":-0.6,"u1":-0.5,"t1":-0.9,"g1":-2.4,"n":-0.5},
{"id":21,"c1":-0.1,"u1":-0.1,"t1":-0.2,"g1":-1.6,"n":-0.3},
{"id":22,"c1":0.0,"u1":-0.2,"t1":-0.4,"g1":-2.2,"n":-0.4},
{"id":23,"c1":-0.2,"u1":-0.3,"t1":-0.6,"g1":-2.5,"n":-0.5},
{"id":24,"c1":0.15,"u1":0.0,"t1":0.2,"g1":-0.1,"n":0.0},
{"id":25,"c1":-0.4,"u1":-0.5,"t1":-0.7,"g1":-2.6,"n":-0.5},
{"id":26,"c1":-0.1,"u1":-0.2,"t1":-0.3,"g1":-1.1,"n":-0.2},
{"id":27,"c1":0.05,"u1":-0.1,"t1":-0.1,"g1":-0.8,"n":-0.2},
{"id":28,"c1":-0.3,"u1":-0.3,"t1":-0.5,"g1":-1.7,"n":-0.4},
{"id":29,"c1":-0.5,"u1":-0.4,"t1":-0.6,"g1":-2.2,"n":-0.5},
{"id":30,"c1":0.0,"u1":0.0,"t1":-0.1,"g1":-1.4,"n":-0.3}
]
},
"vconcat": [
{
"width": 627, "height": 192,
"layer": [
{"data": {"name": "A"},
 "transform": [{"fold": ["c1","u1","t1","g1","c2","u2","t2","g2","c3","u3","t3","g3","c4","u4","t4","g4"], "as": ["k","v"]}, {"lookup": "k", "from": {"data": {"name": "posA"}, "key": "k", "fields": ["i"]}}],
 "encoding": {
  "x": {"field": "i", "type": "quantitative", "title": null, "scale": {"domain": [0.416, 16.338], "nice": false, "zero": false}, "axis": {"values": [1,2,3,4,5,6,7,8,9,10,11,12,13,14,15,16], "labels": false, "ticks": false, "domain": false, "grid": true, "gridColor": "#ececec", "title": null}},
  "y": {"field": "v", "type": "quantitative", "title": null, "scale": {"domain": [-5.4, 6.75], "nice": false, "zero": false}, "axis": {"values": [-4,-2,0,2,4,6], "offset": -3, "grid": false, "labelAngle": 270, "labelAlign": "center", "labelBaseline": "bottom", "labelFontSize": 5, "labelColor": "#555", "labelPadding": 2, "tickSize": 4, "tickColor": "#333", "domainColor": "#333", "title": null}},
  "detail": {"field": "id", "type": "nominal"}
 },
 "layer": [
  {"mark": {"type": "line", "color": "#ff0000", "strokeWidth": 1}},
  {"mark": {"type": "circle", "color": "#ff0000", "size": 16, "opacity": 1}}
 ]
},
{"data": {"name": "boxA"}, "mark": {"type": "rect", "fill": "transparent", "stroke": "#1a1a1a", "strokeWidth": 1.3},
 "encoding": {"x": {"field": "lo", "type": "quantitative", "title": null}, "x2": {"field": "hi"}, "y": {"datum": 8.53}, "y2": {"datum": -5.4}}},
{"data": {"name": "boxA"}, "mark": {"type": "rule", "stroke": "#1a1a1a", "strokeWidth": 1.3},
 "encoding": {"x": {"aggregate": "min", "field": "lo", "type": "quantitative", "title": null}, "x2": {"aggregate": "max", "field": "hi"}, "y": {"datum": 6.75}}},
{"data": {"name": "boxA"}, "mark": {"type": "text", "fontSize": 14, "color": "#111", "align": "center", "baseline": "middle"},
 "encoding": {"x": {"field": "mid", "type": "quantitative", "title": null}, "y": {"datum": 7.59}, "text": {"field": "name"}}},
{"data": {"name": "posA"}, "transform": [{"filter": "datum.lab != 'TG+U'"}], "mark": {"type": "text", "fontSize": 13.5, "color": "#111", "align": "center", "baseline": "middle"},
 "encoding": {"x": {"field": "i", "type": "quantitative", "title": null}, "y": {"datum": 5.11}, "text": {"field": "lab"}}},
{"data": {"name": "posA"}, "transform": [{"filter": "datum.lab == 'TG+U'"}], "mark": {"type": "text", "fontSize": 13.5, "color": "#111", "align": "center", "baseline": "middle", "angle": 90},
 "encoding": {"x": {"field": "i", "type": "quantitative", "title": null}, "y": {"datum": 5.0}, "text": {"field": "lab"}}},
{"data": {"values": [{}]}, "mark": {"type": "text", "text": "Heavy", "fontSize": 13.5, "color": "#111", "align": "center", "baseline": "middle"},
 "encoding": {"x": {"datum": 0.314}, "y": {"datum": 5.11}}},
{"data": {"values": [{}]}, "mark": {"type": "text", "text": "A", "fontSize": 16, "color": "#111", "align": "center", "baseline": "middle"},
 "encoding": {"x": {"datum": 0.31}, "y": {"datum": 9.13}}},
{"data": {"values": [{}]}, "mark": {"type": "text", "text": "DNA REPAIR PROTEINS: CHROMATIN", "fontSize": 13.5, "color": "#111", "align": "left", "baseline": "middle"},
 "encoding": {"x": {"datum": 1.356}, "y": {"datum": 9.25}}}
]
},
{
"width": 643, "height": 193,
"layer": [
{"data": {"name": "B"},
 "transform": [{"fold": ["c1","u1","t1","g1","c2","u2","t2","g2","c3","u3","t3","g3","c4","u4","t4","g4"], "as": ["k","v"]}, {"lookup": "k", "from": {"data": {"name": "posA"}, "key": "k", "fields": ["i"]}}],
 "encoding": {
  "x": {"field": "i", "type": "quantitative", "title": null, "scale": {"domain": [0.479, 16.2], "nice": false, "zero": false}, "axis": {"values": [1,2,3,4,5,6,7,8,9,10,11,12,13,14,15,16], "labels": false, "ticks": false, "domain": false, "grid": true, "gridColor": "#ececec", "title": null}},
  "y": {"field": "v", "type": "quantitative", "title": null, "scale": {"domain": [-4.12, 5.34], "nice": false, "zero": false}, "axis": {"values": [-4,-2,0,2,4], "grid": false, "labelAngle": 270, "labelAlign": "center", "labelBaseline": "bottom", "labelFontSize": 5, "labelColor": "#555", "labelPadding": 2, "tickSize": 4, "tickColor": "#333", "domainColor": "#333", "title": null}},
  "detail": {"field": "id", "type": "nominal"}
 },
 "layer": [
  {"mark": {"type": "line", "color": "#ff0000", "strokeWidth": 1.1}},
  {"mark": {"type": "circle", "color": "#ff0000", "size": 20, "opacity": 1}}
 ]
},
{"data": {"name": "boxB"}, "mark": {"type": "rect", "fill": "transparent", "stroke": "#1a1a1a", "strokeWidth": 1.3},
 "encoding": {"x": {"field": "lo", "type": "quantitative", "title": null}, "x2": {"field": "hi"}, "y": {"datum": 6.76}, "y2": {"datum": -4.12}}},
{"data": {"name": "boxB"}, "mark": {"type": "rule", "stroke": "#1a1a1a", "strokeWidth": 1.3},
 "encoding": {"x": {"aggregate": "min", "field": "lo", "type": "quantitative", "title": null}, "x2": {"aggregate": "max", "field": "hi"}, "y": {"datum": 5.34}}},
{"data": {"name": "boxB"}, "mark": {"type": "text", "fontSize": 14, "color": "#111", "align": "center", "baseline": "middle"},
 "encoding": {"x": {"field": "mid", "type": "quantitative", "title": null}, "y": {"datum": 6.09}, "text": {"field": "name"}}},
{"data": {"name": "posA"}, "transform": [{"filter": "datum.lab != 'TG+U'"}], "mark": {"type": "text", "fontSize": 13.5, "color": "#111", "align": "center", "baseline": "middle"},
 "encoding": {"x": {"field": "i", "type": "quantitative", "title": null}, "y": {"datum": 4.12}, "text": {"field": "lab"}}},
{"data": {"name": "posA"}, "transform": [{"filter": "datum.lab == 'TG+U'"}], "mark": {"type": "text", "fontSize": 13.5, "color": "#111", "align": "center", "baseline": "middle", "angle": 90},
 "encoding": {"x": {"field": "i", "type": "quantitative", "title": null}, "y": {"datum": 4.2}, "text": {"field": "lab"}}},
{"data": {"values": [{}]}, "mark": {"type": "text", "text": "Heavy", "fontSize": 13.5, "color": "#111", "align": "center", "baseline": "middle"},
 "encoding": {"x": {"datum": 0.38}, "y": {"datum": 4.12}}},
{"data": {"values": [{}]}, "mark": {"type": "text", "text": "B", "fontSize": 16, "color": "#111", "align": "center", "baseline": "middle"},
 "encoding": {"x": {"datum": 0.72}, "y": {"datum": 7.75}}},
{"data": {"values": [{}]}, "mark": {"type": "text", "text": "DNA REPAIR PROTEINS (30 BEST FIT): CHROMATIN", "fontSize": 13.5, "color": "#111", "align": "left", "baseline": "middle"},
 "encoding": {"x": {"datum": 1.97}, "y": {"datum": 7.75}}}
]
},
{
"width": 442, "height": 275,
"layer": [
{"data": {"name": "Cg"},
 "transform": [{"fold": ["c1","u1","t1","g1","n"], "as": ["k","v"]}, {"lookup": "k", "from": {"data": {"name": "posC"}, "key": "k", "fields": ["i"]}}],
 "encoding": {
  "x": {"field": "i", "type": "quantitative", "title": null, "scale": {"domain": [-1.51, 4.36], "nice": false, "zero": false}, "axis": {"values": [1,2,3,4], "labels": false, "ticks": false, "domain": false, "grid": true, "gridColor": "#ececec", "title": null}},
  "y": {"field": "v", "type": "quantitative", "title": null, "scale": {"domain": [-4.4, 4.54], "range": [275, 48], "nice": false, "zero": false}, "axis": {"values": [-4,-2,0,2,4], "offset": -150, "grid": false, "labelAngle": 270, "labelAlign": "center", "labelBaseline": "bottom", "labelFontSize": 5, "labelColor": "#666", "labelPadding": 2, "tickSize": 4, "tickColor": "#888", "domainColor": "#888", "title": null}},
  "detail": {"field": "id", "type": "nominal"}
 },
 "layer": [
  {"mark": {"type": "line", "color": "#8a8a8a", "strokeWidth": 1.1, "clip": true}},
  {"mark": {"type": "circle", "color": "#7a7a7a", "size": 11, "opacity": 1, "clip": true}}
 ]
},
{"data": {"name": "Cr"},
 "transform": [{"fold": ["c1","u1","t1","g1","n"], "as": ["k","v"]}, {"lookup": "k", "from": {"data": {"name": "posC"}, "key": "k", "fields": ["i"]}}],
 "encoding": {
  "x": {"field": "i", "type": "quantitative", "title": null},
  "y": {"field": "v", "type": "quantitative", "title": null},
  "detail": {"field": "id", "type": "nominal"}
 },
 "layer": [
  {"mark": {"type": "line", "color": "#ff0000", "strokeWidth": 1.4, "clip": true}},
  {"mark": {"type": "circle", "color": "#ff0000", "size": 28, "opacity": 1, "clip": true}}
 ]
},
{"data": {"name": "boxC"}, "mark": {"type": "rect", "fill": "transparent", "stroke": "#1a1a1a", "strokeWidth": 1.3},
 "encoding": {"x": {"field": "lo", "type": "quantitative", "title": null}, "x2": {"field": "hi"}, "y": {"datum": 6.04}, "y2": {"datum": -4.4}}},
{"data": {"name": "boxC"}, "mark": {"type": "rule", "stroke": "#1a1a1a", "strokeWidth": 1.3},
 "encoding": {"x": {"field": "lo", "type": "quantitative", "title": null}, "x2": {"field": "hi"}, "y": {"datum": 4.7}}},
{"data": {"name": "boxC"}, "mark": {"type": "text", "fontSize": 14, "color": "#111", "align": "center", "baseline": "middle"},
 "encoding": {"x": {"field": "mid", "type": "quantitative", "title": null}, "y": {"datum": 5.44}, "text": {"field": "name"}}},
{"data": {"name": "posC"}, "transform": [{"filter": "datum.lab != '' && datum.lab != 'TG+U'"}], "mark": {"type": "text", "fontSize": 13.5, "color": "#111", "align": "center", "baseline": "middle"},
 "encoding": {"x": {"field": "i", "type": "quantitative", "title": null}, "y": {"datum": 3.75}, "text": {"field": "lab"}}},
{"data": {"name": "posC"}, "transform": [{"filter": "datum.lab == 'TG+U'"}], "mark": {"type": "text", "fontSize": 13.5, "color": "#111", "align": "center", "baseline": "middle", "angle": 90},
 "encoding": {"x": {"field": "i", "type": "quantitative", "title": null}, "y": {"datum": 3.75}, "text": {"field": "lab"}}},
{"data": {"values": [{}]}, "mark": {"type": "text", "text": "Heavy", "fontSize": 13.5, "color": "#111", "align": "center", "baseline": "middle"},
 "encoding": {"x": {"datum": 0.36}, "y": {"datum": 3.71}}},
{"data": {"values": [{}]}, "mark": {"type": "text", "text": "C", "fontSize": 16, "color": "#111", "align": "center", "baseline": "middle"},
 "encoding": {"x": {"datum": -1.68}, "y": {"datum": 8.2}}},
{"data": {"values": [{}]}, "mark": {"type": "text", "text": "DNA REPAIR PROTEINS (30): WHOLE CELL EXTRACT", "fontSize": 13.5, "color": "#111", "align": "center", "baseline": "middle"},
 "encoding": {"x": {"datum": 2.53}, "y": {"datum": 7.1}}}
]
}
]
}
